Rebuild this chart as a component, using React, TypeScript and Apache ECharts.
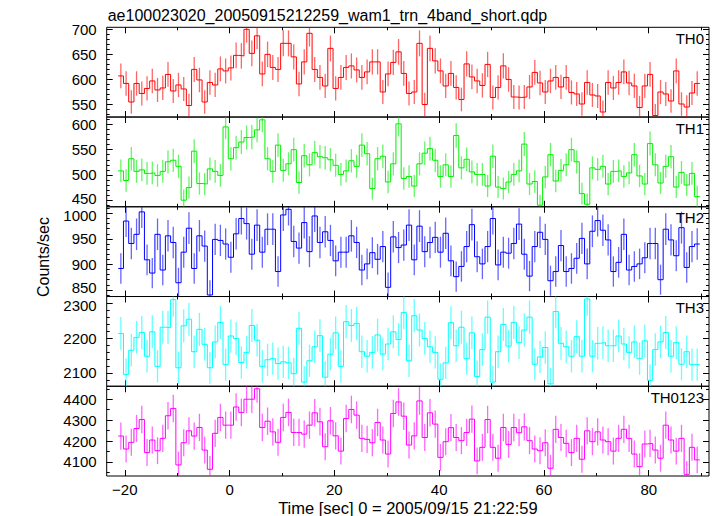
import React, { useEffect, useRef } from 'react';
import * as echarts from 'echarts';

const TITLE = 'ae100023020_20050915212259_wam1_trn_4band_short.qdp';
const X_LABEL = 'Time [sec] 0 = 2005/09/15 21:22:59';
const Y_LABEL = 'Counts/sec';

// 1-s bins, centre of first bin
const BIN_START = -20.75;
const BIN_WIDTH = 1;
const X_MIN = -23.45;
const X_MAX = 91.5;
const X_MAJOR = [-20, 0, 20, 40, 60, 80];
const X_MINOR = [-10, 10, 30, 50, 70, 90];

const PANEL_NAMES = ['TH0', 'TH1', 'TH2', 'TH3', 'TH0123'];
const COLORS = ['#ff0000', '#00ee00', '#0000ff', '#00ffff', '#ff00ff'];

const TH0 = [607,592,555,592,572,582,597,579,583,610, 577,589,581,548,620,599,555,594,589,621, 617,623,648,647,700,652,687,611,650,624, 620,672,672,645,591,635,692,620,604,587, 662,582,604,624,627,619,604,615,635,635, 575,611,634,655,612,572,575,672,550,662, 637,617,587,612,584,560,631,605,597,588, 630,564,584,627,600,565,564,565,585,614, 593,575,597,604,585,604,574,571,551,594, 569,567,535,594,583,594,615,593,587,544, 587,610,528,575,571,557,617,551,545,573, 592];
const TH1 = [508,489,532,507,510,503,504,499,507,526, 529,517,450,475,547,483,482,512,507,499, 595,532,554,565,574,575,589,609,532,507, 559,509,522,550,485,538,520,544,536,534, 530,519,501,508,528,517,559,542,473,532, 537,486,522,601,493,497,478,522,543,552, 529,497,520,497,578,514,531,506,501,501, 478,537,476,473,486,501,508,561,482,487, 440,496,540,488,509,520,550,526,463,442, 514,511,517,482,507,508,497,504,540,498, 482,562,520,484,517,536,476,505,480,503, 457];
const TH2 = [892,985,941,959,1003,909,883,959,889,956, 943,864,924,971,892,956,936,840,949,947, 940,914,960,990,980,920,977,924,969,969, 886,997,1008,945,932,982,925,995,943,964, 947,907,924,924,956,943,889,901,923,910, 935,855,954,933,938,977,909,975,925,943, 953,924,961,907,876,896,935,978,915,901, 935,990,899,924,922,941,979,920,877,935, 963,949,868,886,937,886,892,912,951,901, 965,986,967,948,886,904,959,889,896,901, 913,941,941,870,969,948,917,972,894,935, 940];
const TH3 = [2213,2096,2165,2202,2216,2148,2218,2119,2231,2230, 2310,2115,2235,2254,2161,2225,2182,2115,2189,2245, 2124,2206,2199,2130,2159,2236,2194,2119,2138,2141, 2127,2132,2129,2098,2228,2074,2135,2175,2207,2088, 2154,2215,2119,2247,2236,2242,2161,2148,2159,2209, 2154,2183,2218,2196,2273,2135,2264,2223,2199,2175, 2159,2082,2129,2244,2178,2231,2141,2215,2090,2167, 2260,2074,2161,2239,2177,2245,2187,2223,2260,2125, 2146,2173,2069,2276,2185,2175,2148,2204,2148,2312, 2148,2185,2187,2178,2178,2206,2183,2159,2189,2141, 2192,2079,2167,2189,2216,2148,2187,2125,2161,2124, 2124];
const TH0123 = [4224,4162,4194,4260,4303,4145,4205,4154,4213,4321, 4356,4086,4192,4249,4224,4265,4157,4065,4237,4313, 4276,4276,4363,4337,4400,4400,4450,4265,4295,4244, 4194,4313,4337,4241,4241,4233,4276,4335,4292,4173, 4297,4225,4152,4308,4351,4324,4213,4208,4192,4289, 4205,4138,4332,4387,4319,4181,4225,4392,4217,4335, 4281,4122,4197,4264,4217,4202,4241,4305,4105,4170, 4303,4170,4118,4265,4184,4265,4240,4268,4202,4162, 4154,4192,4070,4256,4217,4189,4145,4213,4113,4249, 4197,4244,4205,4197,4152,4213,4256,4213,4138,4078, 4186,4189,4157,4118,4276,4205,4152,4213,4041,4170, 4110];

const SERIES_DATA = [TH0, TH1, TH2, TH3, TH0123];

const Y_RANGES = [[525, 704], [437, 614.5], [837, 1013], [2062, 2319], [4033, 4462]];
const Y_MAJOR = [
  [550, 600, 650, 700],
  [450, 500, 550, 600],
  [850, 900, 950, 1000],
  [2100, 2200, 2300],
  [4100, 4200, 4300, 4400],
];
const Y_MINOR_STEP = [10, 10, 10, 20, 50];

const FONT = "'Liberation Sans', Arial, Helvetica, sans-serif";
const GRID_LEFT = 106.7;
const GRID_RIGHT_EDGE = 709;
const TOP0 = 27.3;
const PANEL_H = 89.74;

function minorTicks(min: number, max: number, step: number, majors: number[]) {
  const out: number[] = [];
  for (let v = Math.ceil(min / step) * step; v <= max; v += step) {
    if (!majors.some((m) => Math.abs(m - v) < 1e-6)) out.push(v);
  }
  return out;
}

function buildOption() {
  const grid: any[] = [];
  const xAxis: any[] = [];
  const yAxis: any[] = [];
  const series: any[] = [];
  const graphic: any[] = [];
  const W = GRID_RIGHT_EDGE - GRID_LEFT;
  const noLine = { show: false, onZero: false };
  const labelText = { fontSize: 15, fontFamily: FONT, color: '#000' };

  SERIES_DATA.forEach((vals, i) => {
    const top = TOP0 + i * PANEL_H;
    const last = i === SERIES_DATA.length - 1;
    const color = COLORS[i];
    grid.push({
      left: GRID_LEFT, top, width: W, height: PANEL_H,
      show: true, borderColor: '#000', borderWidth: 1, backgroundColor: 'transparent',
    });
    const tickStyle = { color: '#000', width: 1 };
    const xBase = {
      type: 'value', gridIndex: i, min: X_MIN, max: X_MAX,
      splitLine: { show: false }, axisLine: noLine,
    };
    xAxis.push({
      ...xBase, position: 'bottom',
      axisTick: { show: true, inside: true, length: 6, customValues: X_MAJOR, lineStyle: tickStyle },
      axisLabel: {
        show: last, customValues: X_MAJOR, margin: 6, ...labelText,
        formatter: (v: number) => String(v).replace('-', '\u2212'),
      },
    });
    xAxis.push({
      ...xBase, position: 'bottom',
      axisTick: { show: true, inside: true, length: 3, customValues: X_MINOR, lineStyle: tickStyle },
      axisLabel: { show: false },
    });
    xAxis.push({
      ...xBase, position: 'top',
      axisTick: { show: true, inside: true, length: 6, customValues: X_MAJOR, lineStyle: tickStyle },
      axisLabel: { show: false },
    });
    xAxis.push({
      ...xBase, position: 'top',
      axisTick: { show: true, inside: true, length: 3, customValues: X_MINOR, lineStyle: tickStyle },
      axisLabel: { show: false },
    });

    const [ymin, ymax] = Y_RANGES[i];
    const majors = Y_MAJOR[i];
    const minors = minorTicks(ymin, ymax, Y_MINOR_STEP[i], majors);
    const yBase = {
      type: 'value', gridIndex: i, min: ymin, max: ymax,
      splitLine: { show: false }, axisLine: noLine,
    };
    const lowest = majors[0];
    const highest = majors[majors.length - 1];
    // panels 1-2 have a bottom label very close to the next panel's top label: nudge them apart slightly
    const nudgeLow = i === 1 || i === 2;
    const nudgeHigh = i === 2 || i === 3;
    yAxis.push({
      ...yBase, position: 'left',
      axisTick: { show: true, inside: true, length: 6, customValues: majors, lineStyle: tickStyle },
      axisLabel: {
        show: true, customValues: majors, margin: 10, ...labelText,
        formatter: (v: number) => {
          if (nudgeLow && v === lowest) return `{up|${v}}`;
          if (nudgeHigh && v === highest) return `{dn|${v}}`;
          return String(v);
        },
        rich: {
          up: { ...labelText, padding: [0, 0, 4, 0] },
          dn: { ...labelText, padding: [4, 0, 0, 0] },
        },
      },
    });
    yAxis.push({
      ...yBase, position: 'left',
      axisTick: { show: true, inside: true, length: 3, customValues: minors, lineStyle: tickStyle },
      axisLabel: { show: false },
    });
    yAxis.push({
      ...yBase, position: 'right',
      axisTick: { show: true, inside: true, length: 6, customValues: majors, lineStyle: tickStyle },
      axisLabel: { show: false },
    });
    yAxis.push({
      ...yBase, position: 'right',
      axisTick: { show: true, inside: true, length: 3, customValues: minors, lineStyle: tickStyle },
      axisLabel: { show: false },
    });

    // histogram outline: each bin drawn from its left edge to its right edge
    const stepPts: number[][] = [];
    vals.forEach((v, k) => {
      const c = BIN_START + k * BIN_WIDTH;
      stepPts.push([c - BIN_WIDTH / 2, v]);
      stepPts.push([c + BIN_WIDTH / 2, v]);
    });
    series.push({
      type: 'line', xAxisIndex: i * 4, yAxisIndex: i * 4,
      data: stepPts, symbol: 'none', clip: true,
      lineStyle: { color, width: 1 }, silent: true,
    });

    // Poisson errors for 1-s bins
    const errData = vals.map((v, k) => {
      const c = BIN_START + k * BIN_WIDTH;
      const e = Math.sqrt(v * BIN_WIDTH) / BIN_WIDTH;
      return [c, v - e, v + e];
    });
    series.push({
      type: 'custom', xAxisIndex: i * 4, yAxisIndex: i * 4,
      data: errData, silent: true,
      encode: { x: 0, y: [1, 2] },
      renderItem: (params: any, api: any) => {
        const x = api.value(0);
        const p1 = api.coord([x, api.value(1)]);
        const p2 = api.coord([x, api.value(2)]);
        const cs = params.coordSys;
        const clampY = (y: number) => Math.max(cs.y, Math.min(cs.y + cs.height, y));
        return {
          type: 'line',
          shape: { x1: p1[0], y1: clampY(p1[1]), x2: p2[0], y2: clampY(p2[1]) },
          style: { stroke: color, lineWidth: 1.3, opacity: 0.6 },
        };
      },
    });

    graphic.push({
      type: 'text', x: GRID_RIGHT_EDGE - 5, y: top + 11,
      style: { text: PANEL_NAMES[i], fontSize: 15, fontFamily: FONT, fill: '#000', align: 'right', verticalAlign: 'middle' },
    });
  });

  graphic.push({
    type: 'text', x: GRID_LEFT + 1, y: 15,
    style: { text: TITLE, fontSize: 16, fontFamily: FONT, fill: '#000', align: 'left', verticalAlign: 'middle' },
  });
  graphic.push({
    type: 'text', x: (GRID_LEFT + GRID_RIGHT_EDGE) / 2, y: 508,
    style: { text: X_LABEL, fontSize: 16.5, fontFamily: FONT, fill: '#000', align: 'center', verticalAlign: 'middle' },
  });
  graphic.push({
    type: 'text', x: 43, y: 257, rotation: Math.PI / 2,
    style: { text: Y_LABEL, fontSize: 16, fontFamily: FONT, fill: '#000', align: 'center', verticalAlign: 'middle' },
  });

  return {
    animation: false,
    backgroundColor: '#ffffff',
    grid, xAxis, yAxis, series, graphic,
  };
}

export default function App() {
  const ref = useRef<HTMLDivElement>(null);
  useEffect(() => {
    document.body.style.margin = '0';
    if (!ref.current) return;
    const chart = echarts.init(ref.current, undefined, { renderer: 'svg' });
    chart.setOption(buildOption() as any);
    return () => chart.dispose();
  }, []);
  return (
    <div
      ref={ref}
      style={{ position: 'fixed', left: 0, top: 0, width: 717, height: 516, background: '#fff' }}
    />
  );
}
